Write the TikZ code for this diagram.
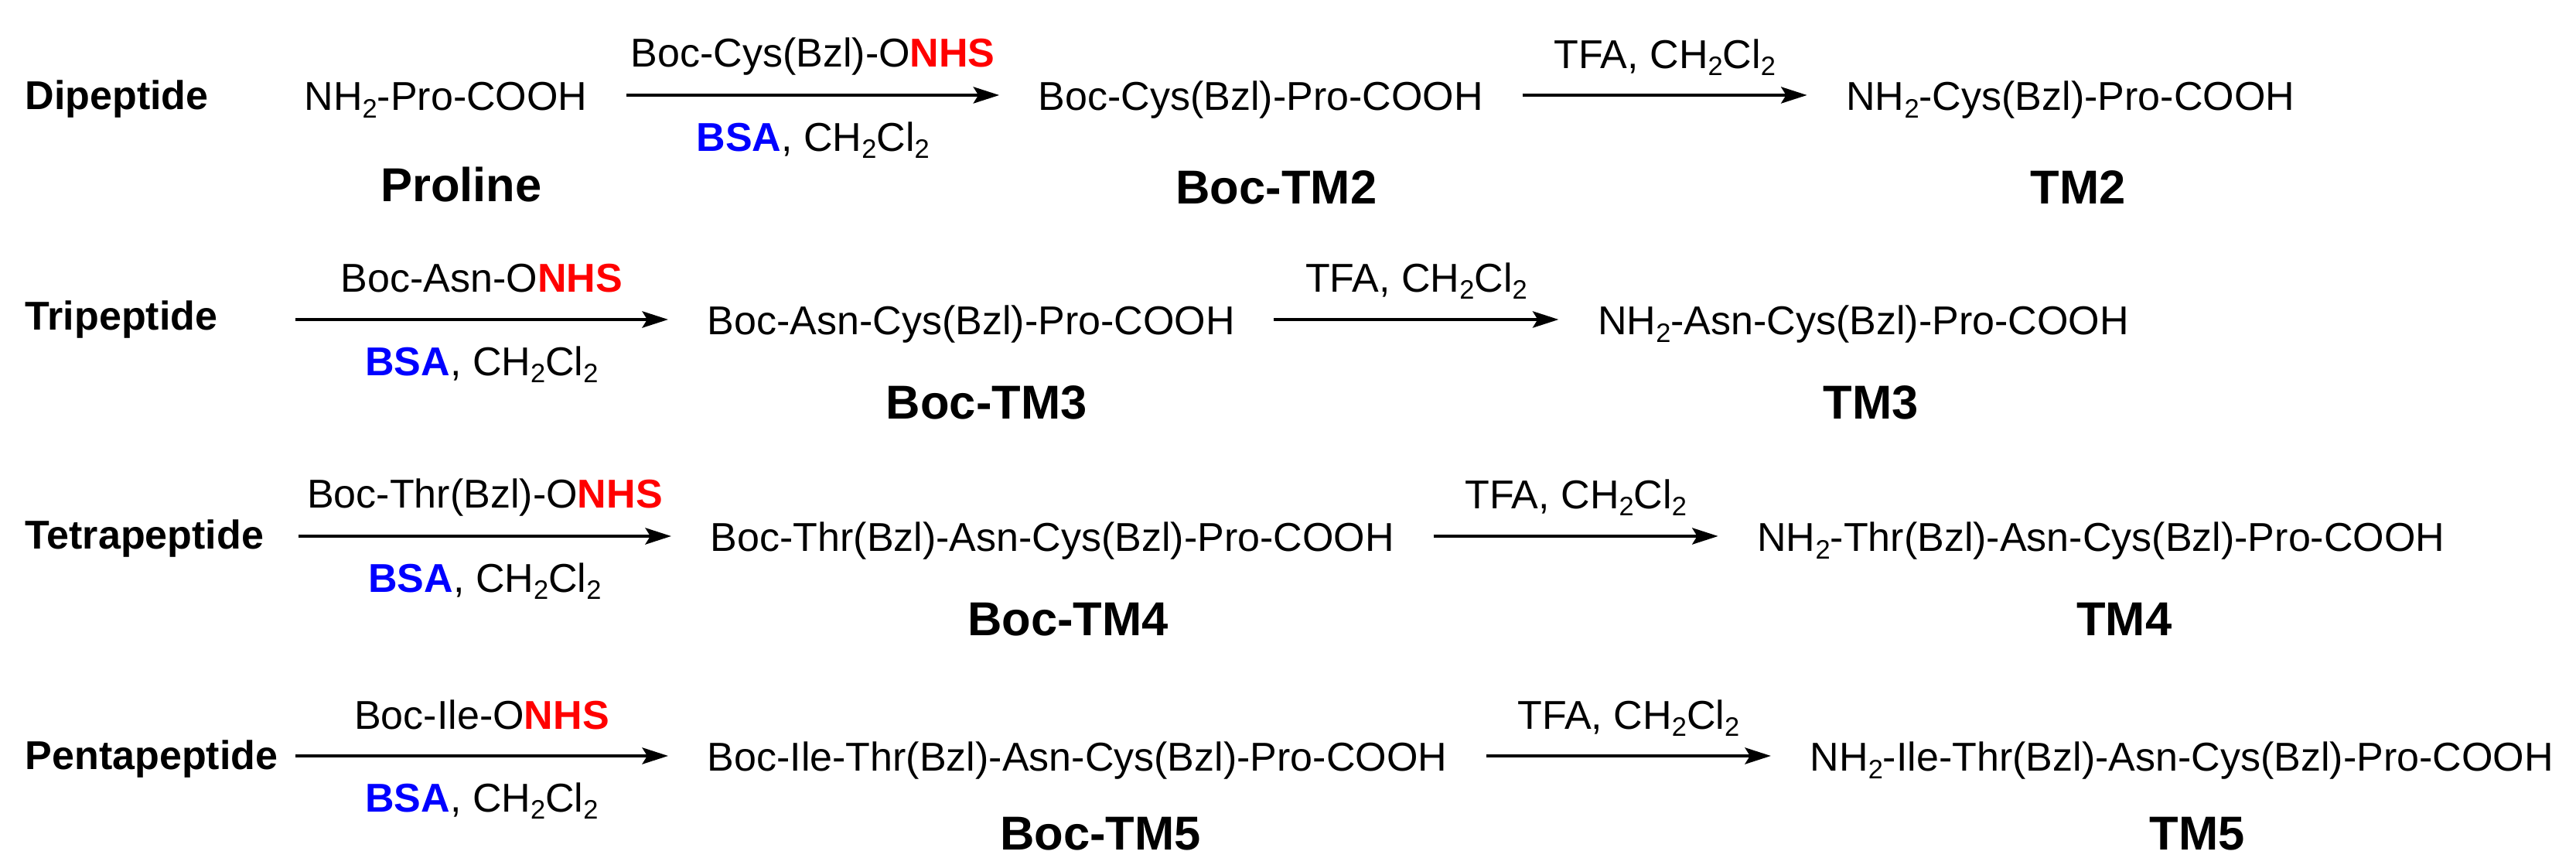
\documentclass[tikz,border=0pt]{standalone}
\usepackage{fontspec}
\setmainfont{Liberation Sans}
\usetikzlibrary{
  arrows.meta,
  positioning
}
\definecolor{nhsred}{RGB}{255,0,0}
\definecolor{bsablue}{RGB}{0,0,255}
\newcommand{\sub}[1]{\raisebox{-2.6pt}{\fontsize{9.8}{10}\selectfont #1}}
\newcommand{\NHS}{\textcolor{nhsred}{\bfseries NHS}}
\newcommand{\BSA}{\textcolor{bsablue}{\bfseries BSA}}
\tikzset{
%
  % For the reaction arrows.
  rxn/.style={
    line width=1.3pt,
    -{Stealth[length=9.5pt,
              width=6pt,
              inset=1.8pt]}},
%
  % For the peptide formulas.
  cpd/.style={
    inner xsep=5mm,
    inner ysep=0pt,
    text height=4mm,
    text depth=0pt},
%
  % For reagents over and under an arrow.
  reag/.style={
    inner sep=0pt,
    text height=3.7mm,
    text depth=0pt},
%
  % For the compound names.
  cpd name/.style={
    inner sep=0pt,
    text height=4.4mm,
    text depth=0pt,
    font=\fontsize{17.5}{21}\selectfont\bfseries},
%
  % For the names of the rows.
  row name/.style={
    anchor=base west,
    inner sep=0pt,
    font=\fontsize{14.8}{17}\selectfont\bfseries}
}

\begin{document}
\begin{tikzpicture}[font=\fontsize{14.8}{17}\selectfont]
  \useasboundingbox (0,0) rectangle (33.31,11.18);

  % Dipeptide
  \node[row name] (dip) at (0.32,9.76) {Dipeptide};
  \node[cpd, anchor=base] (P1) at (5.765,9.75) {NH\sub{2}-Pro-COOH};
  \node[cpd, right=4.82cm of P1] (BP1) {Boc-Cys(Bzl)-Pro-COOH};
  \node[cpd, right=3.68cm of BP1] (D1) {NH\sub{2}-Cys(Bzl)-Pro-COOH};
  \node[cpd name, below=0.72cm of P1, xshift=2mm] (nP1) {Proline};
  \node[cpd name, below=0.75cm of BP1, xshift=2mm] (nBP1) {Boc-TM2};
  \node[cpd name, below=0.75cm of D1, xshift=1mm] (nD1) {TM2};

  \draw[rxn] (P1) -- (BP1)
    node[reag, midway, above=3.4mm] {Boc-Cys(Bzl)-O\NHS}
    node[reag, midway, below=3.3mm] {\BSA, CH\sub{2}Cl\sub{2}};
  \draw[rxn] (BP1) -- (D1)
    node[reag, midway, above=3.2mm] {TFA, CH\sub{2}Cl\sub{2}};

  % Tripeptide
  \node[row name] (tri) at (0.32,6.91) {Tripeptide};
  \coordinate (s2) at (3.82,7.05);
  \node[cpd, right=4.82cm of s2] (BT3) {Boc-Asn-Cys(Bzl)-Pro-COOH};
  \node[cpd, right=3.68cm of BT3] (T3) {NH\sub{2}-Asn-Cys(Bzl)-Pro-COOH};
  \node[cpd name, below=0.63cm of BT3, xshift=2mm] (nBT3) {Boc-TM3};
  \node[cpd name, below=0.63cm of T3, xshift=1mm] (nT3) {TM3};

  \draw[rxn] (s2) -- (BT3)
    node[reag, midway, above=3.3mm] {Boc-Asn-O\NHS}
    node[reag, midway, below=3.3mm] {\BSA, CH\sub{2}Cl\sub{2}};
  \draw[rxn] (BT3) -- (T3)
    node[reag, midway, above=3.3mm] {TFA, CH\sub{2}Cl\sub{2}};

  % Tetrapeptide
  \node[row name] (tet) at (0.32,4.08) {Tetrapeptide};
  \coordinate (s3) at (3.86,4.25);
  \node[cpd, right=4.82cm of s3] (BT4) {Boc-Thr(Bzl)-Asn-Cys(Bzl)-Pro-COOH};
  \node[cpd, right=3.68cm of BT4] (T4) {NH\sub{2}-Thr(Bzl)-Asn-Cys(Bzl)-Pro-COOH};
  \node[cpd name, below=0.63cm of BT4, xshift=2mm] (nBT4) {Boc-TM4};
  \node[cpd name, below=0.63cm of T4, xshift=3mm] (nT4) {TM4};

  \draw[rxn] (s3) -- (BT4)
    node[reag, midway, above=3.4mm] {Boc-Thr(Bzl)-O\NHS}
    node[reag, midway, below=3.3mm] {\BSA, CH\sub{2}Cl\sub{2}};
  \draw[rxn] (BT4) -- (T4)
    node[reag, midway, above=3.3mm] {TFA, CH\sub{2}Cl\sub{2}};

  % Pentapeptide
  \node[row name] (pen) at (0.32,1.23) {Pentapeptide};
  \coordinate (s4) at (3.82,1.41);
  \node[cpd, right=4.82cm of s4] (BT5) {Boc-Ile-Thr(Bzl)-Asn-Cys(Bzl)-Pro-COOH};
  \node[cpd, right=3.68cm of BT5] (T5) {NH\sub{2}-Ile-Thr(Bzl)-Asn-Cys(Bzl)-Pro-COOH};
  \node[cpd name, below=0.56cm of BT5, xshift=3mm] (nBT5) {Boc-TM5};
  \node[cpd name, below=0.56cm of T5, xshift=2mm] (nT5) {TM5};

  \draw[rxn] (s4) -- (BT5)
    node[reag, midway, above=3.2mm] {Boc-Ile-O\NHS}
    node[reag, midway, below=3.3mm] {\BSA, CH\sub{2}Cl\sub{2}};
  \draw[rxn] (BT5) -- (T5)
    node[reag, midway, above=3.2mm] {TFA, CH\sub{2}Cl\sub{2}};
\end{tikzpicture}
\end{document}
